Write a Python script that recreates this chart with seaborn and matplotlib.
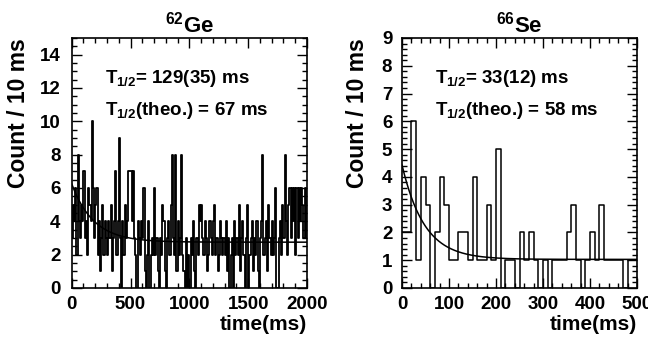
import numpy as np
import pandas as pd
import matplotlib
matplotlib.use("Agg")
import matplotlib.pyplot as plt
import seaborn as sns
from matplotlib.ticker import MultipleLocator

# ---------------- data ----------------
ge_bin_width = 10  # ms
ge_counts = [
    3, 5, 4, 6, 2, 8, 4, 3, 5, 4,
    7, 3, 4, 2, 6, 5, 4, 10, 6, 3,
    5, 6, 2, 4, 1, 3, 5, 2, 4, 3,
    2, 4, 3, 5, 1, 3, 4, 7, 2, 4,
    9, 3, 0, 4, 2, 5, 3, 4, 7, 7,
    7, 4, 7, 3, 2, 0, 4, 3, 2, 4,
    3, 6, 1, 0, 2, 4, 0, 2, 3, 2,
    6, 2, 3, 1, 0, 3, 2, 5, 4, 1,
    0, 3, 4, 2, 5, 8, 3, 2, 8, 1,
    4, 2, 3, 8, 2, 1, 0, 3, 0, 2,
    0, 3, 2, 4, 1, 0, 3, 2, 5, 4,
    5, 3, 2, 4, 3, 1, 2, 4, 3, 2,
    4, 5, 2, 3, 1, 2, 4, 3, 2, 3,
    2, 4, 1, 3, 0, 2, 3, 0, 4, 2,
    3, 2, 5, 1, 3, 4, 2, 0, 3, 5,
    0, 2, 3, 4, 1, 3, 2, 4, 1, 0,
    3, 4, 8, 2, 3, 4, 1, 5, 3, 2,
    4, 2, 3, 6, 0, 0, 3, 4, 2, 5,
    3, 8, 4, 2, 5, 6, 3, 6, 4, 6,
    2, 6, 3, 6, 4, 6, 5, 3, 6, 3,
]
se_bin_width = 10  # ms
se_counts = [
    2, 2, 6, 1, 4, 3, 0, 2, 4, 3,
    1, 1, 2, 2, 1, 4, 1, 1, 3, 1,
    5, 0, 1, 1, 0, 2, 1, 2, 1, 0,
    1, 0, 1, 1, 1, 2, 3, 1, 0, 1,
    2, 1, 3, 1, 1, 1, 1, 0, 1, 1,
]

# fit parameters: f(t) = A * exp(-ln2 t / T12) + B
ge_T12, ge_A, ge_B = 129.0, 3.5, 2.75
se_T12, se_A, se_B = 33.0, 3.4, 1.03

ge_title = r"$^{62}$Ge"
se_title = r"$^{66}$Se"
ge_lines = [r"$T_{1/2}$= 129(35) ms", r"$T_{1/2}$(theo.) = 67 ms"]
se_lines = [r"$T_{1/2}$= 33(12) ms", r"$T_{1/2}$(theo.) = 58 ms"]
ylabel_text = "Count / 10 ms"
xlabel_text = "time(ms)"

# ---------------- style ----------------
sns.set_style("ticks")
plt.rcParams["font.family"] = ["Liberation Sans", "DejaVu Sans"]
plt.rcParams["font.weight"] = "bold"
plt.rcParams["text.color"] = "black"
plt.rcParams["axes.labelcolor"] = "black"
plt.rcParams["xtick.color"] = "black"
plt.rcParams["ytick.color"] = "black"
plt.rcParams["mathtext.fontset"] = "custom"
plt.rcParams["mathtext.rm"] = "Liberation Sans:bold"
plt.rcParams["mathtext.bf"] = "Liberation Sans:bold"
plt.rcParams["mathtext.it"] = "Liberation Sans:bold"
plt.rcParams["mathtext.default"] = "rm"

W, H = 648, 341
fig = plt.figure(figsize=(W / 100, H / 100), dpi=100)
fig.patch.set_facecolor("white")


def make_panel(rect, counts, bw, T12, A, B, xmax, ymax, xmaj, xmin, ymaj, ymin,
               title, lines, ylab_x, ytick_pad, hist_lw):
    ax = fig.add_axes(rect)
    n = len(counts)
    edges = [float(i * bw) for i in range(n + 1)]
    centers = [(i + 0.5) * bw for i in range(n)]
    df = pd.DataFrame({"t": centers, "c": counts})
    sns.histplot(data=df, x="t", weights="c", bins=edges, element="step",
                 fill=False, color="black", linewidth=hist_lw, ax=ax)
    tt = np.linspace(0, xmax, 400)
    fit = pd.DataFrame({"t": tt, "f": A * np.exp(-np.log(2) * tt / T12) + B})
    sns.lineplot(data=fit, x="t", y="f", color="black", linewidth=1.1, ax=ax)
    ax.set_xlim(0, xmax)
    ax.set_ylim(0, ymax)
    ax.xaxis.set_major_locator(MultipleLocator(xmaj))
    ax.xaxis.set_minor_locator(MultipleLocator(xmin))
    ax.yaxis.set_major_locator(MultipleLocator(ymaj))
    ax.yaxis.set_minor_locator(MultipleLocator(ymin))
    ax.tick_params(which="both", direction="in", top=True, right=True,
                   width=1.0, color="black")
    ax.tick_params(which="major", length=7)
    ax.tick_params(which="minor", length=3.5)
    ax.tick_params(axis="x", which="major", pad=6, labelsize=13.5)
    ax.tick_params(axis="y", which="major", pad=ytick_pad, labelsize=13.5)
    for lab in ax.get_xticklabels() + ax.get_yticklabels():
        lab.set_fontweight("bold")
    for s in ax.spines.values():
        s.set_linewidth(1.2)
        s.set_color("black")
    ax.set_ylabel(ylabel_text, fontsize=16.5, fontweight="bold", loc="top")
    ax.yaxis.set_label_coords(ylab_x, 1.0)
    ax.set_xlabel(xlabel_text, fontsize=15, fontweight="bold", loc="right")
    ax.xaxis.set_label_coords(1.0, -0.11)
    ax.text(0.5, 1.022, title, transform=ax.transAxes, ha="center",
            va="baseline", fontsize=16, fontweight="bold")
    ax.text(0.142, 0.82, lines[0], transform=ax.transAxes, ha="left",
            va="baseline", fontsize=13.5, fontweight="bold")
    ax.text(0.142, 0.692, lines[1], transform=ax.transAxes, ha="left",
            va="baseline", fontsize=13.5, fontweight="bold")
    ax.set_facecolor("white")
    return ax


bot = (H - 288) / H
hgt = 250 / H
make_panel([71.7 / W, bot, 235.3 / W, hgt], ge_counts, ge_bin_width,
           ge_T12, ge_A, ge_B, 2000, 15, 500, 100, 2, 0.5,
           ge_title, ge_lines, -0.177, 8, 1.3)
make_panel([402 / W, bot, 235 / W, hgt], se_counts, se_bin_width,
           se_T12, se_A, se_B, 500, 9, 100, 20, 1, 0.2,
           se_title, se_lines, -0.14, 7, 1.1)

fig.savefig("out.png", dpi=100, facecolor="white")
